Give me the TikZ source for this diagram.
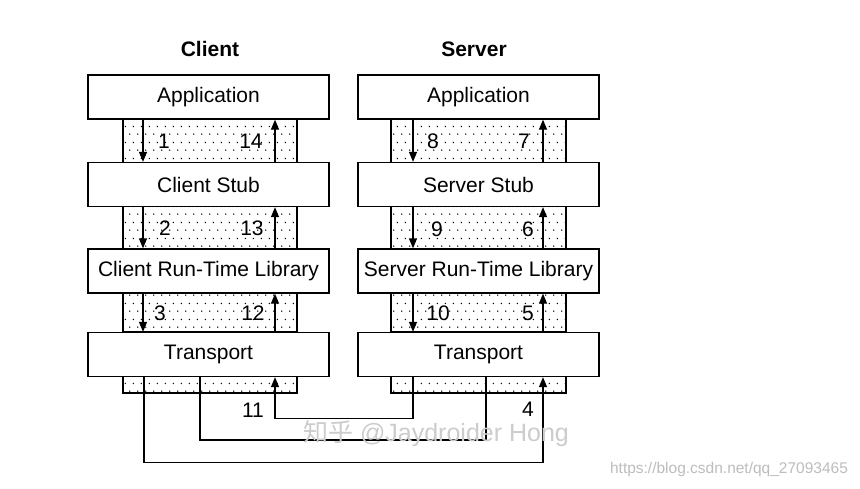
\documentclass[tikz,border=0pt]{standalone}
\usepackage{fontspec}
\setmainfont{Liberation Sans}
\newfontfamily\cjkfont{Noto Sans CJK SC}
\usetikzlibrary{arrows.meta,patterns}
\pgfdeclarepatternformonly{sparsedots}{\pgfpointorigin}{\pgfqpoint{8pt}{16pt}}{\pgfqpoint{8pt}{16pt}}{%
  \pgfpathcircle{\pgfqpoint{2pt}{2pt}}{0.8pt}%
  \pgfpathcircle{\pgfqpoint{6pt}{10pt}}{0.8pt}%
  \pgfusepath{fill}}
\begin{document}
\begin{tikzpicture}[x=1pt,y=-1pt,
  box/.style={draw,line width=1.3pt,fill=white,minimum width=241pt,minimum height=44pt,inner sep=0pt,
    font=\fontsize{21}{25}\selectfont},
  strip/.style={draw,line width=1.3pt,pattern=sparsedots},
  arr/.style={line width=1.3pt,-{Triangle[width=8pt,length=10pt]}},
  num/.style={font=\fontsize{21}{25}\selectfont,inner sep=0pt},
  title/.style={font=\fontsize{21}{25}\selectfont\bfseries},
  net/.style={line width=2.6pt}]
\path[fill=white] (0,0) rectangle (860,488);
\useasboundingbox (0,0) rectangle (860,488);
% titles
\node[title] (tc) at (210,49) {Client};
\node[title] (ts) at (474,49) {Server};
% dotted strips
\foreach \ya/\yb in {119/163,206/249,293/332} {
  \path[strip] (123,\ya) rectangle (297,\yb);
  \path[strip] (391,\ya) rectangle (566,\yb);
}
\path[strip] (123,370) rectangle (297,393);
\path[strip] (391,370) rectangle (566,393);
% boxes
\node[box] (capp) at (208.5,97) {Application};
\node[box] (cstub) at (208.5,184.5) {Client Stub};
\node[box] (crt) at (208.5,271) {Client Run-Time Library};
\node[box] (ctr) at (208.5,354.5) {Transport};
\node[box] (sapp) at (478.5,97) {Application};
\node[box] (sstub) at (478.5,184.5) {Server Stub};
\node[box] (srt) at (478.5,271) {Server Run-Time Library};
\node[box] (str) at (478.5,354.5) {Transport};
% client arrows
\draw[arr] ([xshift=-65.5pt]capp.south) -- ([xshift=-65.5pt]cstub.north);
\draw[arr] ([xshift=-65.5pt]cstub.south) -- ([xshift=-65.5pt]crt.north);
\draw[arr] ([xshift=-65.5pt]crt.south) -- ([xshift=-65.5pt]ctr.north);
\draw[arr] ([xshift=66.5pt]cstub.north) -- ([xshift=66.5pt]capp.south);
\draw[arr] ([xshift=66.5pt]crt.north) -- ([xshift=66.5pt]cstub.south);
\draw[arr] ([xshift=66.5pt]ctr.north) -- ([xshift=66.5pt]crt.south);
% server arrows
\draw[arr] ([xshift=-65.5pt]sapp.south) -- ([xshift=-65.5pt]sstub.north);
\draw[arr] ([xshift=-65.5pt]sstub.south) -- ([xshift=-65.5pt]srt.north);
\draw[arr] ([xshift=-65.5pt]srt.south) -- ([xshift=-65.5pt]str.north);
\draw[arr] ([xshift=64.5pt]sstub.north) -- ([xshift=64.5pt]sapp.south);
\draw[arr] ([xshift=64.5pt]srt.north) -- ([xshift=64.5pt]sstub.south);
\draw[arr] ([xshift=64.5pt]str.north) -- ([xshift=64.5pt]srt.south);
% bottom connections
\draw[arr] ([xshift=-64.5pt]ctr.south) -- ++(0,85) -| ([xshift=64.5pt]str.south);
\draw[net] ([xshift=-8.5pt]ctr.south) -- ++(0,63) -| ([xshift=7.5pt]str.south);
\draw[arr] ([xshift=-65.5pt]str.south) -- ++(0,41) -| ([xshift=66.5pt]ctr.south);
% numbers
\node[num] (n1) at (164,141) {1};
\node[num] (n14) at (251,141) {14};
\node[num] (n2) at (165,228) {2};
\node[num] (n13) at (252,228) {13};
\node[num] (n3) at (160,313) {3};
\node[num] (n12) at (253,313) {12};
\node[num] (n8) at (433,141) {8};
\node[num] (n7) at (524,141) {7};
\node[num] (n9) at (437,229) {9};
\node[num] (n6) at (528,229) {6};
\node[num] (n10) at (438,313) {10};
\node[num] (n5) at (528,313) {5};
\node[num] (n11) at (253,410) {11};
\node[num] (n4) at (528,409) {4};
% watermarks
\node[text=black!20,font=\fontsize{25}{28}\selectfont,inner sep=0pt] (wm) at (436,434) {{\cjkfont 知乎} @Jaydroider Hong};
\node[text=black!26,font=\fontsize{15.5}{18}\selectfont] (url) at (729,469) {https://blog.csdn.net/qq\_27093465};
\end{tikzpicture}
\end{document}
